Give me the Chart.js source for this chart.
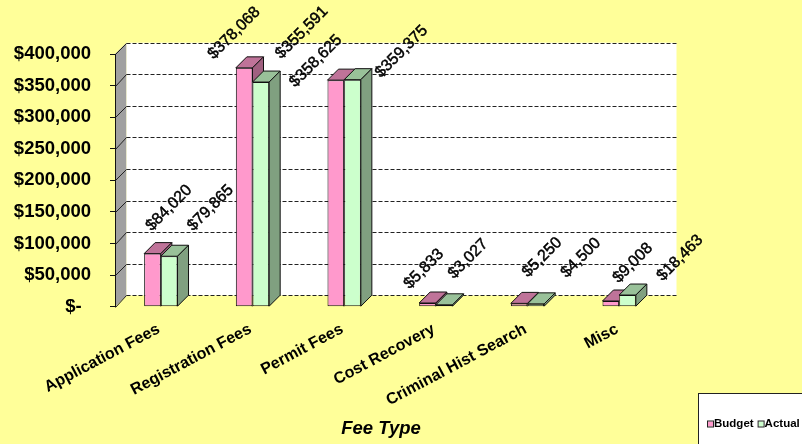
<!DOCTYPE html>
<html>
<head>
<meta charset="utf-8">
<title>Fee Type: Budget vs Actual</title>
<style>
  html, body { margin: 0; padding: 0; background: #FFFF99; }
  #wrap { width: 802px; height: 444px; }
  canvas { display: block; }
</style>
<script src="https://cdn.jsdelivr.net/npm/chart.js@4.4.1/dist/chart.umd.min.js"></script>
</head>
<body>
<div id="wrap"><canvas id="chart" width="802" height="444"></canvas></div>
<script>
// ---- data ----
const categories = ['Application Fees', 'Registration Fees', 'Permit Fees', 'Cost Recovery', 'Criminal Hist Search', 'Misc'];
const budget = [84020, 378068, 358625, 5833, 5250, 9008];
const actual = [79865, 355591, 359375, 3027, 4500, 18463];
const seriesNames = ['Budget', 'Actual'];
const yTicks = [0, 50000, 100000, 150000, 200000, 250000, 300000, 350000, 400000];
const axisTitle = 'Fee Type';

// ---- look ----
const FONT = '"Liberation Sans", Arial, Helvetica, sans-serif';
const faceColors = [
  { front: '#FF99CC', top: '#BF7399', side: '#A06080' },
  { front: '#CCFFCC', top: '#99C199', side: '#80A080' }
];

function money(v) {
  if (v === 0) return '$-\u2002';
  return '$' + String(v).replace(/\B(?=(\d{3})+(?!\d))/g, ',');
}

// Draws the walls behind the plot, the extruded tops/sides of the bars,
// the rotated value labels, the legend box and the axis title.
const scene3d = {
  id: 'scene3d',
  beforeDraw(chart, args, opts) {
    const { ctx, chartArea: a } = chart;
    const y = chart.scales.y;
    const dx = opts.wall.dx, dy = opts.wall.dy;
    ctx.save();
    ctx.fillStyle = opts.background;
    ctx.fillRect(0, 0, chart.width, chart.height);

    // left side wall
    ctx.fillStyle = '#A0A0A0';
    ctx.beginPath();
    ctx.moveTo(a.left, a.top);
    ctx.lineTo(a.left + dx, a.top + dy);
    ctx.lineTo(a.left + dx, a.bottom + dy);
    ctx.lineTo(a.left, a.bottom);
    ctx.closePath();
    ctx.fill();

    // back wall
    ctx.fillStyle = '#FFFFFF';
    ctx.fillRect(a.left + dx, a.top + dy, a.right - a.left, a.bottom - a.top);

    ctx.strokeStyle = '#222';
    ctx.lineWidth = 1;
    y.ticks.forEach(t => {
      const fy = y.getPixelForValue(t.value);
      const by = Math.round(fy + dy) + 0.5;
      ctx.setLineDash([4, 2]);
      ctx.beginPath();
      ctx.moveTo(a.left + dx, by);
      ctx.lineTo(a.right + dx, by);
      ctx.stroke();
      ctx.setLineDash([]);
      ctx.beginPath();
      ctx.moveTo(a.left + 0.5, Math.round(fy) + 0.5);
      ctx.lineTo(a.left + dx, by);
      ctx.stroke();
    });
    ctx.restore();
  },
  afterDatasetsDraw(chart, args, opts) {
    const { ctx } = chart;
    const dx = opts.bar.dx, dy = opts.bar.dy;
    const metas = chart.data.datasets.map((d, i) => chart.getDatasetMeta(i));
    const n = chart.data.labels.length;
    const props = (m, j) => m.data[j].getProps(['x', 'y', 'base', 'width'], true);

    for (let j = 0; j < n; j++) {
      metas.forEach((meta, i) => {
        const b = props(meta, j);
        const l = b.x - b.width / 2, r = b.x + b.width / 2;
        const top = Math.min(b.y, b.base), bot = Math.max(b.y, b.base);
        const col = faceColors[i];
        ctx.save();
        // faces hidden behind the front of bars further right
        const clip = new Path2D();
        clip.rect(0, 0, chart.width, chart.height);
        for (let k = i + 1; k < metas.length; k++) {
          const o = props(metas[k], j);
          clip.rect(o.x - o.width / 2, Math.min(o.y, o.base), o.width, Math.abs(o.base - o.y));
        }
        ctx.clip(clip, 'evenodd');
        ctx.strokeStyle = '#111';
        ctx.lineWidth = 1;
        ctx.lineJoin = 'round';
        // top face
        ctx.beginPath();
        ctx.moveTo(l, top);
        ctx.lineTo(r, top);
        ctx.lineTo(r + dx, top + dy);
        ctx.lineTo(l + dx, top + dy);
        ctx.closePath();
        ctx.fillStyle = col.top;
        ctx.fill();
        ctx.stroke();
        // right face
        ctx.beginPath();
        ctx.moveTo(r, top);
        ctx.lineTo(r + dx, top + dy);
        ctx.lineTo(r + dx, bot + dy);
        ctx.lineTo(r, bot);
        ctx.closePath();
        ctx.fillStyle = col.side;
        ctx.fill();
        ctx.stroke();
        ctx.restore();
      });
    }

    // value labels
    ctx.save();
    ctx.fillStyle = '#000';
    ctx.strokeStyle = '#000';
    ctx.lineWidth = 0.45;
    ctx.font = '16px ' + FONT;
    ctx.textAlign = 'center';
    ctx.textBaseline = 'middle';
    metas.forEach((meta, i) => {
      const values = chart.data.datasets[i].data;
      meta.data.forEach((el, j) => {
        const b = el.getProps(['x', 'y'], true);
        const nudge = opts.labelNudge[i][j];
        const text = money(values[j]);
        ctx.save();
        ctx.translate(b.x + nudge[0], b.y + nudge[1]);
        ctx.rotate(-Math.PI / 4);
        ctx.fillText(text, 0, 0);
        ctx.strokeText(text, 0, 0);
        ctx.restore();
      });
    });
    ctx.restore();
  },
  afterDraw(chart, args, opts) {
    const { ctx } = chart;
    ctx.save();
    // axis title
    ctx.fillStyle = '#000';
    ctx.font = 'italic bold 18.5px ' + FONT;
    ctx.textAlign = 'center';
    ctx.textBaseline = 'middle';
    ctx.fillText(axisTitle, opts.title.x, opts.title.y);

    // legend box
    const lg = opts.legend;
    ctx.fillStyle = '#FFFFFF';
    ctx.fillRect(lg.x + 0.5, lg.y + 0.5, 140, 80);
    ctx.strokeStyle = '#222';
    ctx.lineWidth = 1;
    ctx.strokeRect(lg.x + 0.5, lg.y + 0.5, 140, 80);
    ctx.font = 'bold 11.5px ' + FONT;
    ctx.textAlign = 'left';
    ctx.textBaseline = 'middle';
    let x = lg.x + 10;
    chart.data.datasets.forEach((ds, i) => {
      ctx.fillStyle = faceColors[i].front;
      ctx.fillRect(x, lg.rowY - 2.5, 5, 5);
      ctx.strokeStyle = '#222';
      ctx.strokeRect(x - 0.5, lg.rowY - 3, 6, 6);
      ctx.fillStyle = '#000';
      ctx.fillText(ds.label, x + 6, lg.rowY);
      x += 6 + ctx.measureText(ds.label).width + 5;
    });
    ctx.restore();
  }
};

new Chart(document.getElementById('chart'), {
  type: 'bar',
  data: {
    labels: categories,
    datasets: [
      { label: seriesNames[0], data: budget, backgroundColor: faceColors[0].front },
      { label: seriesNames[1], data: actual, backgroundColor: faceColors[1].front }
    ]
  },
  options: {
    responsive: false,
    animation: false,
    devicePixelRatio: 1,
    layout: { padding: { left: 0, top: 54, right: 137, bottom: 0 } },
    datasets: {
      bar: {
        categoryPercentage: 0.364,
        barPercentage: 1,
        borderColor: '#111',
        borderWidth: 1,
        borderSkipped: false
      }
    },
    scales: {
      x: {
        grid: { display: false, drawTicks: false },
        border: { display: false },
        ticks: {
          autoSkip: false,
          minRotation: 28,
          maxRotation: 28,
          padding: 13,
          labelOffset: -2,
          color: '#000',
          font: { family: FONT, size: 16, weight: 'bold' }
        },
        afterFit(s) { s.height = 137.3; }
      },
      y: {
        min: 0,
        max: 400000,
        afterBuildTicks(s) { s.ticks = yTicks.map(v => ({ value: v })); },
        grid: { drawOnChartArea: false, drawTicks: true, tickLength: 5, color: '#111' },
        border: { display: true, color: '#111', width: 1 },
        ticks: {
          padding: 19,
          color: '#000',
          font: { family: FONT, size: 18.5, weight: 'bold' },
          callback: v => money(v)
        },
        afterFit(s) { s.width = 115; }
      }
    },
    plugins: {
      legend: { display: false },
      tooltip: { enabled: false },
      scene3d: {
        background: '#FFFF99',
        wall: { dx: 11.5, dy: -11.3 },
        bar: { dx: 11, dy: -11 },
        title: { x: 381, y: 429 },
        legend: { x: 698, y: 393, rowY: 424 },
        labelNudge: [
          [[16.5, -45.6], [-10, -34.7], [-20, -19], [-3.5, -34], [23, -46], [22, -38]],
          [[41.3, -48.2], [41, -49.5], [49, -28], [24, -46], [45, -46], [52.5, -37]]
        ]
      }
    }
  },
  plugins: [scene3d]
});
</script>
</body>
</html>
